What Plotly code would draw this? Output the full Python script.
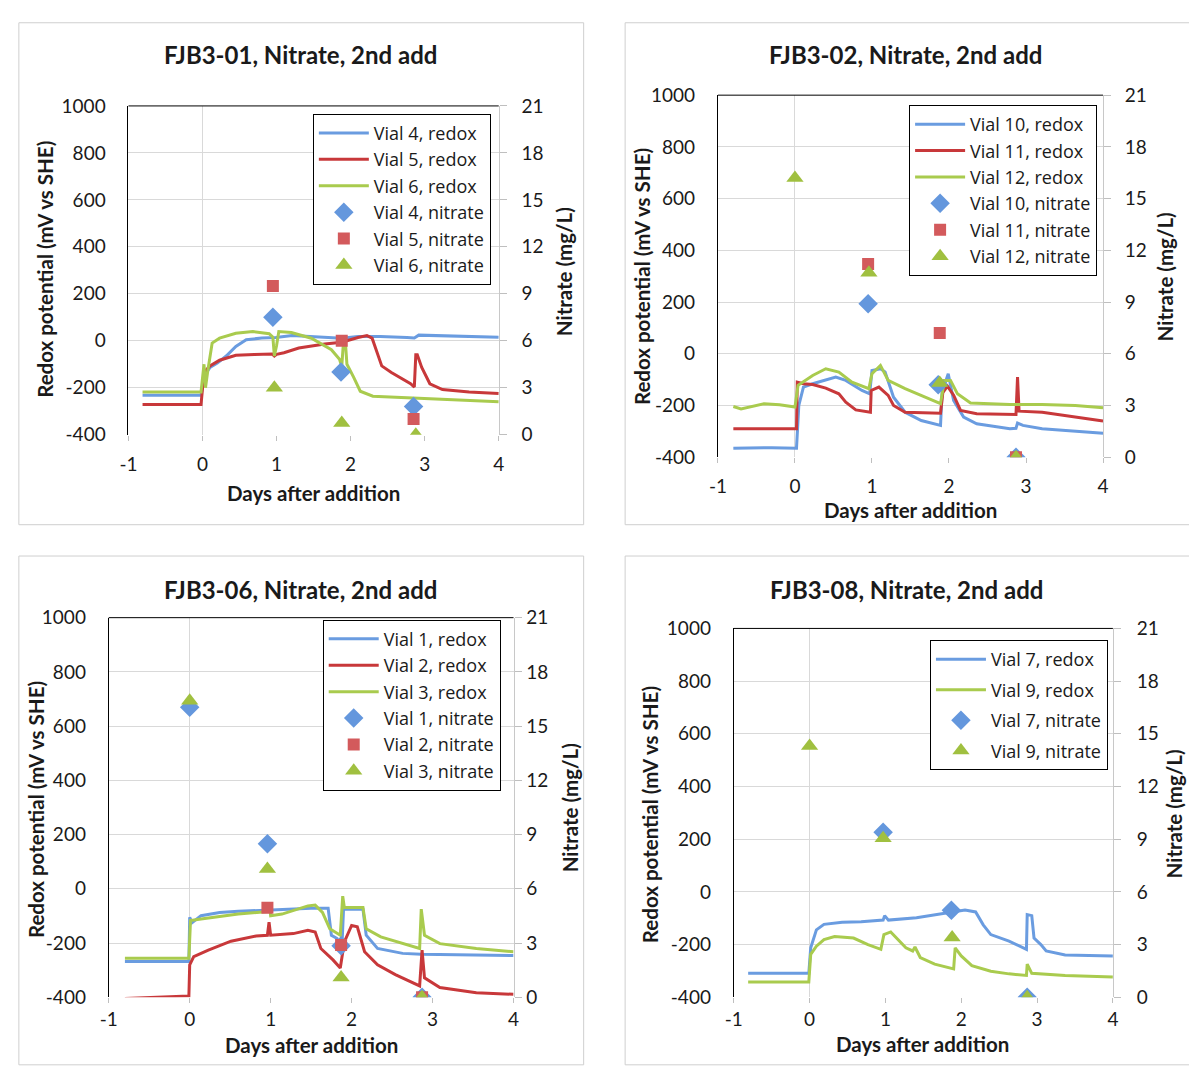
import plotly.graph_objects as go

W, H = 1189, 1068

# ---------------- DATA ----------------
# Panel 1: FJB3-01
p1_v4_days = [-0.81, -0.4, -0.02, 0.02, 0.1, 0.2, 0.32, 0.45, 0.59, 0.8, 0.99, 1.21, 1.45, 1.65, 1.88, 2.1, 2.4, 2.76, 2.86, 2.92, 3.2, 3.6, 4.0]
p1_v4_mv = [-232, -233, -232, -150, -114, -95, -65, -24, 4, 12, 14, 22, 18, 14, 11, 18, 18, 14, 12, 24, 21, 18, 15]
p1_v5_days = [-0.81, -0.3, -0.02, 0.02, 0.1, 0.23, 0.45, 0.7, 0.94, 0.97, 1.0, 1.1, 1.3, 1.65, 1.88, 2.1, 2.22, 2.29, 2.42, 2.55, 2.81, 2.86, 2.88, 2.9, 2.96, 3.07, 3.24, 3.6, 4.0]
p1_v5_mv = [-271, -271, -271, -135, -107, -83, -62, -58, -56, -65, -58, -51, -31, -14, -6, 14, 22, 11, -107, -135, -183, -197, -60, -60, -114, -183, -208, -218, -225]
p1_v6_days = [-0.81, -0.3, -0.02, 0.02, 0.04, 0.07, 0.13, 0.23, 0.45, 0.68, 0.9, 0.95, 0.97, 1.0, 1.03, 1.2, 1.47, 1.74, 1.85, 1.88, 1.9, 1.93, 1.95, 2.04, 2.13, 2.3, 2.76, 3.43, 4.0]
p1_v6_mv = [-218, -218, -218, -100, -200, -130, -10, 11, 32, 39, 30, 15, -65, -20, 39, 35, 11, -38, -79, -110, -20, -10, -100, -155, -215, -236, -243, -253, -260]
p1_n4_days = [0.95, 1.87, 2.85]
p1_n4_mgl = [7.5, 4.0, 1.8]
p1_n5_days = [0.95, 1.88, 2.85]
p1_n5_mgl = [9.5, 6.0, 1.0]
p1_n6_days = [0.97, 1.88, 2.88]
p1_n6_mgl = [3.0, 0.75, 0.0]

# Panel 2: FJB3-02
p2_v10_days = [-0.8, -0.3, 0.02, 0.05, 0.11, 0.23, 0.53, 0.66, 0.87, 0.97, 1.0, 1.11, 1.17, 1.28, 1.43, 1.64, 1.89, 1.91, 1.99, 2.06, 2.19, 2.36, 2.79, 2.87, 2.89, 2.96, 3.21, 3.64, 4.0]
p2_v10_mv = [-365, -363, -365, -200, -129, -116, -90, -103, -142, -155, -65, -58, -70, -168, -226, -258, -277, -150, -77, -181, -245, -271, -290, -288, -268, -277, -290, -299, -307]
p2_v11_days = [-0.8, -0.3, 0.02, 0.03, 0.11, 0.23, 0.4, 0.57, 0.66, 0.79, 0.98, 0.99, 1.09, 1.21, 1.28, 1.43, 1.89, 1.92, 1.98, 2.06, 2.15, 2.36, 2.87, 2.89, 2.91, 3.21, 3.64, 4.0]
p2_v11_mv = [-290, -290, -290, -110, -116, -119, -133, -155, -187, -217, -226, -142, -129, -161, -200, -226, -230, -150, -125, -160, -219, -232, -235, -90, -222, -226, -245, -260]
p2_v12_days = [-0.8, -0.7, -0.4, -0.2, 0.0, 0.04, 0.23, 0.4, 0.57, 0.74, 0.96, 1.0, 1.11, 1.21, 1.43, 1.68, 1.89, 1.94, 2.02, 2.11, 2.28, 2.79, 3.21, 3.64, 4.0]
p2_v12_mv = [-204, -213, -193, -197, -206, -122, -84, -58, -71, -110, -135, -77, -45, -103, -135, -168, -193, -103, -103, -155, -190, -196, -196, -200, -209]
p2_n10_days = [0.95, 1.86, 2.87]
p2_n10_mgl = [8.9, 4.2, 0.0]
p2_n11_days = [0.95, 1.88, 2.87]
p2_n11_mgl = [11.2, 7.2, 0.0]
p2_n12_days = [0.0, 0.96, 1.88, 2.87]
p2_n12_mgl = [16.2, 10.7, 4.3, 0.0]

# Panel 3: FJB3-06
p3_v1_days = [-0.8, -0.3, -0.01, 0.0, 0.03, 0.14, 0.37, 0.6, 1.05, 1.5, 1.71, 1.75, 1.82, 1.86, 1.88, 1.9, 2.14, 2.18, 2.32, 2.63, 2.86, 3.31, 4.0]
p3_v1_mv = [-268, -268, -268, -105, -125, -99, -87, -83, -77, -72, -72, -171, -183, -214, -214, -75, -75, -171, -220, -238, -241, -244, -246]
p3_v2_days = [-0.8, -0.3, -0.01, 0.0, 0.05, 0.23, 0.51, 0.82, 0.96, 0.98, 1.0, 1.28, 1.46, 1.55, 1.62, 1.77, 1.86, 1.91, 2.0, 2.07, 2.16, 2.32, 2.54, 2.84, 2.87, 2.9, 3.09, 3.54, 4.0]
p3_v2_mv = [-404, -400, -395, -280, -250, -226, -193, -174, -171, -123, -171, -165, -153, -159, -220, -262, -292, -196, -135, -140, -232, -280, -316, -358, -226, -328, -364, -383, -389]
p3_v3_days = [-0.8, -0.3, -0.01, 0.01, 0.14, 0.6, 0.96, 0.98, 1.0, 1.14, 1.46, 1.55, 1.64, 1.73, 1.86, 1.89, 1.91, 2.14, 2.18, 2.36, 2.63, 2.84, 2.86, 2.9, 3.09, 3.54, 4.0]
p3_v3_mv = [-256, -256, -256, -117, -111, -93, -84, -50, -99, -93, -63, -60, -87, -147, -171, -27, -69, -69, -147, -177, -202, -220, -75, -171, -202, -220, -232]
p3_n1_days = [0.0, 0.96, 1.87, 2.87]
p3_n1_mgl = [16.05, 8.5, 2.85, 0.0]
p3_n2_days = [0.96, 1.87, 2.87]
p3_n2_mgl = [4.95, 2.9, 0.0]
p3_n3_days = [0.0, 0.96, 1.87, 2.87]
p3_n3_mgl = [16.4, 7.1, 1.1, 0.0]

# Panel 4: FJB3-08
p4_v7_days = [-0.81, -0.3, -0.01, 0.015, 0.09, 0.19, 0.43, 0.68, 0.97, 0.99, 1.04, 1.41, 1.65, 1.9, 2.05, 2.19, 2.29, 2.39, 2.53, 2.63, 2.86, 2.87, 2.93, 2.96, 3.05, 3.12, 3.37, 4.0]
p4_v7_mv = [-309, -309, -309, -212, -144, -123, -115, -113, -107, -90, -107, -98, -88, -76, -69, -76, -125, -162, -175, -187, -218, -86, -90, -175, -200, -224, -239, -243]
p4_v9_days = [-0.81, -0.3, -0.01, 0.015, 0.09, 0.19, 0.33, 0.58, 0.77, 0.94, 0.98, 1.07, 1.17, 1.27, 1.36, 1.39, 1.46, 1.65, 1.9, 1.92, 2.0, 2.14, 2.39, 2.63, 2.86, 2.87, 2.93, 3.37, 4.0]
p4_v9_mv = [-342, -342, -342, -237, -206, -181, -169, -175, -200, -218, -162, -152, -181, -212, -224, -209, -249, -274, -292, -212, -243, -280, -301, -311, -317, -274, -309, -317, -323]
p4_n7_days = [0.97, 1.87, 2.87]
p4_n7_mgl = [9.4, 4.96, 0.0]
p4_n9_days = [0.0, 0.97, 1.88, 2.87]
p4_n9_mgl = [14.3, 9.05, 3.4, 0.0]

titles = ["FJB3-01, Nitrate, 2nd add", "FJB3-02, Nitrate, 2nd add",
          "FJB3-06, Nitrate, 2nd add", "FJB3-08, Nitrate, 2nd add"]
x_tick_vals = [-1, 0, 1, 2, 3, 4]
x_tick_text = ["-1", "0", "1", "2", "3", "4"]
redox_ticks = [-400, -200, 0, 200, 400, 600, 800, 1000]
redox_tick_text = ["-400", "-200", "0", "200", "400", "600", "800", "1000"]
nitrate_ticks = [0, 3, 6, 9, 12, 15, 18, 21]
nitrate_tick_text = ["0", "3", "6", "9", "12", "15", "18", "21"]

# ---------------- STYLE ----------------
FONT = "Lato"
LEG_FONT = "Open Sans"
TXT = "#1a1a1a"
BLUE_L, RED_L, GREEN_L = "#6A9CE0", "#C8383A", "#A9CB4E"
BLUE_M, RED_M, GREEN_M = "#6497DD", "#D35A5C", "#A0C040"
GRID = "#D9D9D9"

# pixel layouts: plot area (left, right, top, bottom)
areas = [(121, 496, 96, 432), (718, 1108, 85, 455), (101, 511, 619, 1007), (734, 1118, 630, 1007)]
cards = [(10, 582, 11, 524), (624, 1196, 11, 524), (10, 582, 556, 1076), (624, 1196, 556, 1076)]
title_pos = [(295, 43), (908, 43), (295, 590), (909, 590)]
xtitle_pos = [(308, 492), (913, 509), (306, 1056), (925, 1055)]
ytitle_pos = [(37, 263), (641, 270), (28, 815), (650, 820)]
y2title_pos = [(562, 265), (1171, 271), (569, 813), (1180, 820)]
legend_pos = [(488, 104), (1102, 95), (498, 621), (1113, 642)]
xtick_standoff = [8, 7, 0, 0]
y2tick_standoff = [11, 10, 1, 12]
legend_gap = [0, 0, 0, 4]


def px(x):
    return x / W


def py(y):
    return 1 - y / H


panels = [
    dict(lines=[("Vial 4, redox", p1_v4_days, p1_v4_mv, BLUE_L),
                ("Vial 5, redox", p1_v5_days, p1_v5_mv, RED_L),
                ("Vial 6, redox", p1_v6_days, p1_v6_mv, GREEN_L)],
         marks=[("Vial 4, nitrate", p1_n4_days, p1_n4_mgl, BLUE_M, "diamond", 15),
                ("Vial 5, nitrate", p1_n5_days, p1_n5_mgl, RED_M, "square", 12),
                ("Vial 6, nitrate", p1_n6_days, p1_n6_mgl, GREEN_M, "triangle-up", 15)]),
    dict(lines=[("Vial 10, redox", p2_v10_days, p2_v10_mv, BLUE_L),
                ("Vial 11, redox", p2_v11_days, p2_v11_mv, RED_L),
                ("Vial 12, redox", p2_v12_days, p2_v12_mv, GREEN_L)],
         marks=[("Vial 10, nitrate", p2_n10_days, p2_n10_mgl, BLUE_M, "diamond", 15),
                ("Vial 11, nitrate", p2_n11_days, p2_n11_mgl, RED_M, "square", 12),
                ("Vial 12, nitrate", p2_n12_days, p2_n12_mgl, GREEN_M, "triangle-up", 15)]),
    dict(lines=[("Vial 1, redox", p3_v1_days, p3_v1_mv, BLUE_L),
                ("Vial 2, redox", p3_v2_days, p3_v2_mv, RED_L),
                ("Vial 3, redox", p3_v3_days, p3_v3_mv, GREEN_L)],
         marks=[("Vial 1, nitrate", p3_n1_days, p3_n1_mgl, BLUE_M, "diamond", 15),
                ("Vial 2, nitrate", p3_n2_days, p3_n2_mgl, RED_M, "square", 12),
                ("Vial 3, nitrate", p3_n3_days, p3_n3_mgl, GREEN_M, "triangle-up", 15)]),
    dict(lines=[("Vial 7, redox", p4_v7_days, p4_v7_mv, BLUE_L),
                ("Vial 9, redox", p4_v9_days, p4_v9_mv, GREEN_L)],
         marks=[("Vial 7, nitrate", p4_n7_days, p4_n7_mgl, BLUE_M, "diamond", 15),
                ("Vial 9, nitrate", p4_n9_days, p4_n9_mgl, GREEN_M, "triangle-up", 15)]),
]

fig = go.Figure()
layout = dict(width=W, height=H, margin=dict(l=0, r=0, t=0, b=0),
              paper_bgcolor="white", plot_bgcolor="white",
              font=dict(family=FONT, color=TXT), showlegend=True)
shapes, annotations = [], []

for i, p in enumerate(panels):
    n = i + 1
    xa = "x" if n == 1 else f"x{n}"
    ya = "y" if n == 1 else f"y{n}"
    ya2 = f"y{n + 4}"
    lg = "legend" if n == 1 else f"legend{n}"
    k = 0
    for name, xs, ys, col in p["lines"]:
        k += 1
        fig.add_trace(go.Scatter(x=xs, y=ys, mode="lines", name=name,
                                 line=dict(color=col, width=3),
                                 xaxis=xa, yaxis=ya, legend=lg, legendgroup=f"p{n}g{k}"))
    for name, xs, ys, col, sym, sz in p["marks"]:
        k += 1
        fig.add_trace(go.Scatter(x=xs, y=ys, mode="markers", name=name,
                                 marker=dict(color=col, symbol=sym, size=sz, line=dict(width=0)),
                                 xaxis=xa, yaxis=ya2, legend=lg, legendgroup=f"p{n}g{k}"))
    l, r, t, b = areas[i]
    xk = "xaxis" if n == 1 else f"xaxis{n}"
    yk = "yaxis" if n == 1 else f"yaxis{n}"
    layout[xk] = dict(domain=[px(l), px(r)], range=[-1, 4], tickvals=x_tick_vals, ticktext=x_tick_text,
                      showgrid=False, zeroline=True, zerolinecolor=GRID, zerolinewidth=1,
                      showline=False, ticks="outside", ticklen=5, tickcolor="#BFBFBF",
                      tickfont=dict(size=19, family=FONT, color=TXT),
                      ticklabelstandoff=xtick_standoff[i], anchor=ya, fixedrange=True)
    layout[yk] = dict(domain=[py(b), py(t)], range=[-400, 1000], tickvals=redox_ticks,
                      ticktext=redox_tick_text,
                      showgrid=True, gridcolor=GRID, gridwidth=1, zeroline=False,
                      showline=True, linecolor="black", linewidth=1, ticks="",
                      tickfont=dict(size=19, family=FONT, color=TXT),
                      ticklabelstandoff=18, anchor=xa, fixedrange=True)
    layout[f"yaxis{n + 4}"] = dict(overlaying=ya, side="right", anchor=xa, range=[0, 21],
                                   tickvals=nitrate_ticks, ticktext=nitrate_tick_text,
                                   showgrid=False, zeroline=False,
                                   showline=True, linecolor="#C8C8C8", linewidth=1,
                                   ticks="outside", ticklen=7, tickcolor="#BFBFBF",
                                   tickfont=dict(size=19, family=FONT, color=TXT),
                                   ticklabelstandoff=y2tick_standoff[i], fixedrange=True)
    lx, ly = legend_pos[i]
    layout[lg] = dict(x=px(lx), y=py(ly), xanchor="right", yanchor="top",
                      bgcolor="white", bordercolor="black", borderwidth=1,
                      font=dict(size=18, family=LEG_FONT, color=TXT),
                      traceorder="grouped", tracegroupgap=legend_gap[i], itemwidth=50)
    # card border
    cl, cr, ct, cb = cards[i]
    shapes.append(dict(type="rect", xref="paper", yref="paper", x0=px(cl), x1=px(cr),
                       y0=py(cb), y1=py(ct), line=dict(color="#CFCFCF", width=1),
                       fillcolor="rgba(0,0,0,0)", layer="below"))
    # top plot border
    shapes.append(dict(type="line", xref=f"{xa} domain", yref=f"{ya} domain",
                       x0=0, x1=1, y0=1, y1=1, line=dict(color="black", width=1)))
    tx, ty = title_pos[i]
    annotations.append(dict(text=f"<b>{titles[i]}</b>", x=px(tx), y=py(ty), xref="paper", yref="paper",
                            showarrow=False, xanchor="center", yanchor="middle",
                            font=dict(size=24, family=FONT, color=TXT)))
    tx, ty = xtitle_pos[i]
    annotations.append(dict(text="<b>Days after addition</b>", x=px(tx), y=py(ty), xref="paper", yref="paper",
                            showarrow=False, xanchor="center", yanchor="middle",
                            font=dict(size=20.5, family=FONT, color=TXT)))
    tx, ty = ytitle_pos[i]
    annotations.append(dict(text="<b>Redox potential (mV vs SHE)</b>", x=px(tx), y=py(ty), xref="paper",
                            yref="paper", showarrow=False, xanchor="center", yanchor="middle",
                            textangle=-90, font=dict(size=20.5, family=FONT, color=TXT)))
    tx, ty = y2title_pos[i]
    annotations.append(dict(text="<b>Nitrate (mg/L)</b>", x=px(tx), y=py(ty), xref="paper",
                            yref="paper", showarrow=False, xanchor="center", yanchor="middle",
                            textangle=-90, font=dict(size=20.5, family=FONT, color=TXT)))

layout["shapes"] = shapes
layout["annotations"] = annotations
fig.update_layout(**layout)
fig.write_html("out.html")
